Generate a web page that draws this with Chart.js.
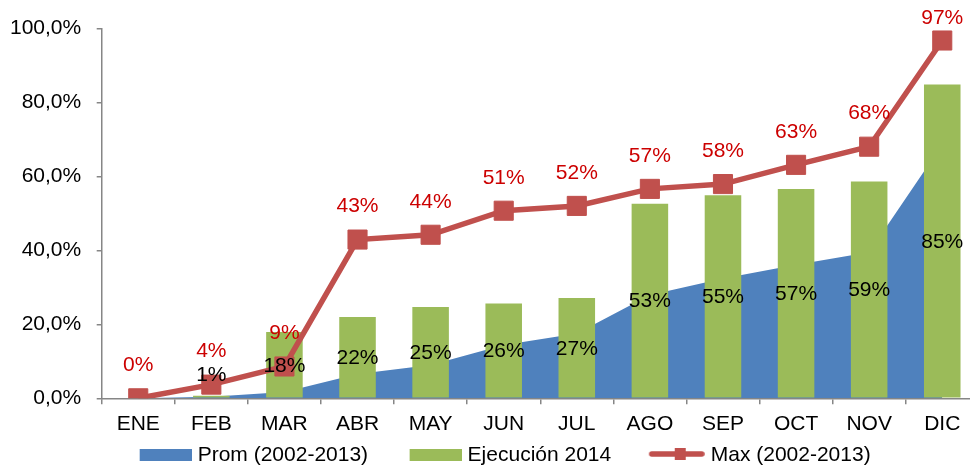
<!DOCTYPE html>
<html>
<head>
<meta charset="utf-8">
<script src="https://cdn.jsdelivr.net/npm/chart.js@4"></script>
<style>
html, body { margin: 0; padding: 0; overflow: hidden; background: #ffffff; width: 970px; height: 466px; }
#wrap { position: relative; width: 1000px; height: 466px; }
canvas { display: block; }
</style>
</head>
<body>
<div id="wrap"><canvas id="c" width="1000" height="466"></canvas></div>
<script>
// ---- data ----
const MONTHS = ['ENE', 'FEB', 'MAR', 'ABR', 'MAY', 'JUN', 'JUL', 'AGO', 'SEP', 'OCT', 'NOV', 'DIC'];
const PROM = [0, 0.4, 1.7, 6.6, 9.0, 14.4, 17.5, 27.9, 32.4, 36.1, 39.5, 68.6];
const EJEC = [null, 0.7, 17.9, 22.0, 24.7, 25.6, 27.1, 52.6, 54.9, 56.6, 58.6, 84.8];
const MAX = [0, 3.7, 8.6, 42.9, 44.2, 50.7, 52.0, 56.6, 57.9, 63.1, 68.0, 96.7];
const Y_TICKS = [0, 20, 40, 60, 80, 100];
const SERIES_NAMES = ['Prom (2002-2013)', 'Ejecución 2014', 'Max (2002-2013)'];

const BLUE = '#4F81BD', GREEN = '#9BBB59', RED = '#C0504D', LABEL_RED = '#CC0000';
const FONT = 'Liberation Sans, Arial, Helvetica, sans-serif';
const FS = 21;
const AXIS = '#868686';

Chart.defaults.font.family = FONT;
Chart.defaults.font.size = FS;
Chart.defaults.color = '#000000';

// legend symbols
const BOXW = 79;
function legendImg(kind, color) {
  const c = document.createElement('canvas');
  c.width = BOXW + 9; c.height = 20;
  const g = c.getContext('2d');
  if (kind === 'rect') {
    g.fillStyle = color;
    g.fillRect(BOXW - 43, 4, 52, 12);
  } else {
    g.strokeStyle = color;
    g.lineWidth = 5.5;
    g.lineCap = 'round';
    g.beginPath();
    g.moveTo(BOXW - 44, 9);
    g.lineTo(BOXW + 6, 9);
    g.stroke();
    g.fillStyle = color;
    g.fillRect(BOXW - 43 + 22, 3, 11, 12);
  }
  return c;
}
const LEG_IMGS = [legendImg('rect', BLUE), legendImg('rect', GREEN), legendImg('line', RED)];

const labelPlugin = {
  id: 'valueLabels',
  afterDatasetsDraw(chart) {
    const ctx = chart.ctx;
    ctx.save();
    ctx.font = FS + 'px ' + FONT;
    ctx.textAlign = 'center';
    ctx.textBaseline = 'middle';
    const bottom = chart.scales.y.getPixelForValue(0);
    // line labels (red)
    const mMax = chart.getDatasetMeta(2);
    mMax.data.forEach((el, i) => {
      const v = MAX[i];
      if (v === null || v === undefined) return;
      let y = el.y - 33;
      if (y < 18.5) y = 18.5;
      ctx.fillStyle = LABEL_RED;
      ctx.fillText(Math.round(v) + '%', el.x, y);
    });
    // bar labels (black)
    const mBar = chart.getDatasetMeta(1);
    mBar.data.forEach((el, i) => {
      const v = EJEC[i];
      if (v === null || v === undefined) return;
      let y = (el.y + el.base) / 2 + 1;
      if (y > bottom - 23.5) y = bottom - 23.5;
      ctx.fillStyle = '#000000';
      ctx.fillText(Math.round(v) + '%', el.x, y);
    });
    ctx.restore();
  }
};

new Chart(document.getElementById('c'), {
  type: 'bar',
  data: {
    labels: MONTHS,
    datasets: [
      {
        type: 'line',
        label: SERIES_NAMES[0],
        data: PROM,
        backgroundColor: BLUE,
        borderColor: BLUE,
        borderWidth: 0,
        pointRadius: 0,
        fill: 'origin',
        tension: 0,
        order: 3
      },
      {
        type: 'bar',
        label: SERIES_NAMES[1],
        data: EJEC,
        backgroundColor: GREEN,
        borderWidth: 0,
        categoryPercentage: 1.0,
        barPercentage: 0.5,
        order: 2
      },
      {
        type: 'line',
        label: SERIES_NAMES[2],
        data: MAX,
        borderColor: RED,
        backgroundColor: RED,
        borderWidth: 5.5,
        pointStyle: 'rect',
        pointRadius: 13.5,
        pointBorderWidth: 1,
        pointBackgroundColor: RED,
        pointBorderColor: RED,
        fill: false,
        tension: 0,
        order: 1
      }
    ]
  },
  options: {
    responsive: false,
    animation: false,
    devicePixelRatio: 1,
    layout: { padding: { left: 0, right: 21.2, top: 28.3, bottom: 0 } },
    plugins: {
      tooltip: { enabled: false },
      legend: {
        position: 'bottom',
        maxHeight: 31.5,
        labels: {
          usePointStyle: true,
          pointStyleWidth: BOXW,
          boxHeight: FS,
          padding: 10,
          color: '#000000',
          font: { size: FS, family: FONT },
          generateLabels(chart) {
            return SERIES_NAMES.map((name, i) => ({
              text: name,
              pointStyle: LEG_IMGS[i],
              fillStyle: 'rgba(0,0,0,0)',
              strokeStyle: 'rgba(0,0,0,0)',
              lineWidth: 0,
              hidden: false,
              datasetIndex: i
            }));
          }
        }
      }
    },
    scales: {
      x: {
        offset: true,
        grid: {
          display: true,
          offset: true,
          drawOnChartArea: false,
          drawTicks: true,
          tickLength: 6,
          color: AXIS,
          lineWidth: 1.5
        },
        border: { display: true, color: AXIS, width: 1.5 },
        ticks: { padding: 7.6, color: '#000000', font: { size: FS, family: FONT }, maxRotation: 0, autoSkip: false },
        afterFit(s) { s.height = 36.2; }
      },
      y: {
        min: 0,
        max: 100,
        afterBuildTicks(s) { s.ticks = Y_TICKS.map(v => ({ value: v })); },
        grid: {
          display: true,
          drawOnChartArea: false,
          drawTicks: true,
          tickLength: 5,
          color: AXIS,
          lineWidth: 1.5
        },
        border: { display: true, color: AXIS, width: 1.5 },
        ticks: {
          padding: 15.5,
          color: '#000000',
          font: { size: FS, family: FONT },
          callback: v => v.toFixed(1).replace('.', ',') + '%'
        },
        afterFit(s) { s.width = 101.7; }
      }
    }
  },
  plugins: [labelPlugin]
});
</script>
</body>
</html>
